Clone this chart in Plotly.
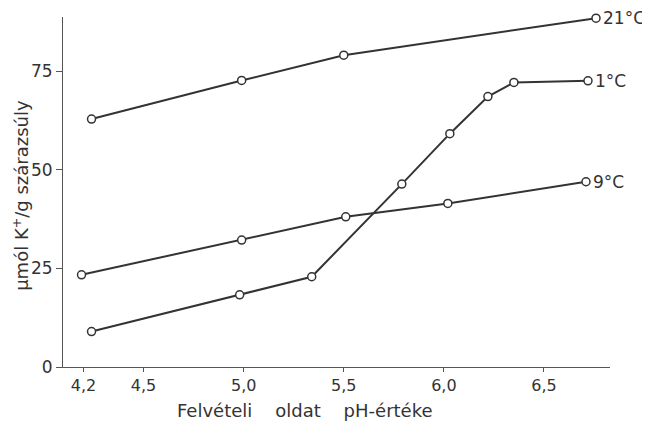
import plotly.graph_objects as go

# Data
ph_21 = [4.24, 4.99, 5.50, 6.76]
k_21 = [62.9, 72.7, 79.1, 88.5]

ph_1 = [4.24, 4.98, 5.34, 5.79, 6.03, 6.22, 6.35, 6.72]
k_1 = [9.0, 18.3, 22.9, 46.4, 59.2, 68.6, 72.2, 72.6]

ph_9 = [4.19, 4.99, 5.51, 6.02, 6.71]
k_9 = [23.4, 32.2, 38.1, 41.5, 47.0]

series_labels = ["21°C", "1°C", "9°C"]

x_tickvals = [4.2, 4.5, 5.0, 5.5, 6.0, 6.5]
x_ticktext = ["4,2", "4,5", "5,0", "5,5", "6,0", "6,5"]
y_tickvals = [0, 25, 50, 75]

x_title = "Felvételi    oldat    pH-értéke"
y_title = "μmól K<sup>+</sup>/g szárazsúly"

LINE = "#333333"
FONT = "DejaVu Sans"

fig = go.Figure()
for xs, ys, lab in [(ph_21, k_21, series_labels[0]),
                    (ph_1, k_1, series_labels[1]),
                    (ph_9, k_9, series_labels[2])]:
    fig.add_trace(go.Scatter(
        x=xs, y=ys, mode="lines+markers", name=lab,
        line=dict(color=LINE, width=2),
        marker=dict(symbol="circle", size=8, color="white",
                    line=dict(color=LINE, width=1.5)),
        cliponaxis=False, showlegend=False))
    fig.add_annotation(x=xs[-1], y=ys[-1], text=lab, showarrow=False,
                       xanchor="left", yanchor="middle", xshift=5,
                       font=dict(family=FONT, size=17, color=LINE))

fig.add_annotation(x=0.442, y=-0.123, xref="paper", yref="paper",
                   text=x_title, showarrow=False, xanchor="center", yanchor="middle",
                   font=dict(family=FONT, size=18, color=LINE))
fig.add_annotation(x=-0.078, y=0.49, xref="paper", yref="paper",
                   text=y_title, showarrow=False, textangle=-90,
                   xanchor="center", yanchor="middle",
                   font=dict(family=FONT, size=18, color=LINE))

# page body has an 8px margin; size the figure to compensate
fig.update_layout(
    width=642, height=422,
    margin=dict(l=55, r=40, t=9, b=63),
    paper_bgcolor="white", plot_bgcolor="white",
    font=dict(family=FONT, size=16, color=LINE),
    xaxis=dict(range=[4.0975, 6.83], tickvals=x_tickvals, ticktext=x_ticktext,
               showgrid=False, zeroline=False, showline=True, linecolor="#555555",
               linewidth=1, ticks="outside", ticklen=4, tickcolor="#555555",
               tickfont=dict(family=FONT, size=16, color=LINE)),
    yaxis=dict(range=[0, 88.8], tickvals=y_tickvals, showgrid=False,
               zeroline=False, showline=True, linecolor="#555555", linewidth=1,
               ticks="outside", ticklen=6, tickcolor="#555555",
               tickfont=dict(family=FONT, size=17, color=LINE)),
)

fig.write_html("out.html")
